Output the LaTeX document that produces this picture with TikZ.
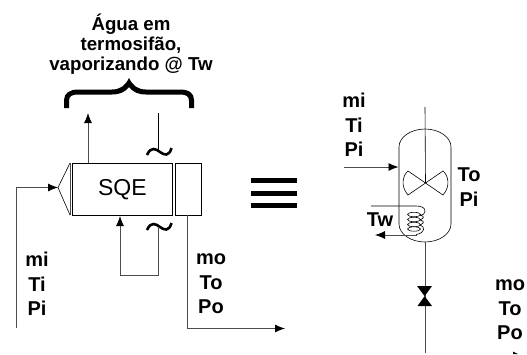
\documentclass[tikz,border=0pt]{standalone}
\usepackage{fontspec}
\setmainfont{Liberation Sans}
\usetikzlibrary{arrows.meta}
\tikzset{
  pipe/.style={draw=black!70,line width=0.8pt},
  thin line/.style={draw=black,line width=0.6pt},
  flow/.style={pipe,-{Latex[length=10pt,width=8pt,black]}},
  lab/.style={align=center,font=\bfseries\fontsize{20}{24.5}\selectfont,inner sep=0pt,text=black},
  tildemark/.style={line width=2.6pt,black},
  bar/.style={fill=black,draw=none}
}
\begin{document}
\begin{tikzpicture}[x=1pt,y=-1pt]
\useasboundingbox (0,0) rectangle (527,354);
% left unit
\coordinate (inA) at (16,328);
\coordinate (inB) at (16,187.5);
\coordinate (tip) at (58,187.5);
\node[thin line,draw,minimum width=100pt,minimum height=52pt,inner sep=0pt,anchor=north west,font=\fontsize{23}{24}\selectfont] (sqe) at (72,163) {SQE};
\node[thin line,draw,minimum width=26pt,minimum height=52pt,inner sep=0pt,anchor=north west] (cap) at (175,163) {};
\draw[pipe] (70,163) -- (70,215);
\draw[thin line] (70,163) -- (tip) -- (70,215);
\draw[flow] (inA) -- (inB) -- (tip);
\coordinate (outA) at (187,215);
\coordinate (outB) at (187,328.5);
\coordinate (outC) at (285,328.5);
\draw[flow] (outA) -- (outB) -- (outC);
\coordinate (vap) at (88,163);
\coordinate (vapEnd) at (88,113);
\draw[flow] (vap) -- (vapEnd);
\coordinate (ret) at (158,113);
\coordinate (retEnd) at (158,152);
\draw[thin line] (ret) -- (retEnd);
\coordinate (rec) at (158,228);
\draw[pipe,-{Latex[length=10pt,width=8pt,black]}] (rec) -- (158,275) -- (120,275) -- (120,216);
% tildes
\draw[tildemark] (147,155) .. controls (151,146) and (156,149) .. (160,152) .. controls (164,155) and (169,157) .. (171.5,148);
\draw[tildemark] (147,230) .. controls (151,221) and (156,224) .. (160,227) .. controls (164,230) and (169,232) .. (171.5,223);
% brace
\fill[black] (64,108) -- (64,100) .. controls (64,93) and (70,89.5) .. (78,89.5) -- (112,89.5) .. controls (120,89.5) and (125,86) .. (129,78) .. controls (133,86) and (138,89.5) .. (146,89.5) -- (180,89.5) .. controls (189,89.5) and (194,93) .. (194,100) -- (194,108) -- (189,108) -- (189,101) .. controls (189,96) and (186,94.5) .. (180,94.5) -- (146,94.5) .. controls (138,94.5) and (133,92) .. (129,87) .. controls (125,92) and (120,94.5) .. (112,94.5) -- (78,94.5) .. controls (72,94.5) and (69,96) .. (69,101) -- (69,108) -- cycle;
\node[lab,font=\bfseries\fontsize{18.7}{20}\selectfont] (water) at (131,44) {Água em\\termosifão,\\vaporizando @ Tw};
\node[lab] (inlab) at (37,284) {mi\\Ti\\Pi};
\node[lab] (outlab) at (211,284) {mo\\To\\Po};
% equivalence
\fill[bar] (250.5,178) rectangle (297,183);
\fill[bar] (250.5,190.5) rectangle (297,195.5);
\fill[bar] (250.5,203) rectangle (297,208);
% right vessel
\draw[thin line] (399,147) .. controls (399,137) and (411,129) .. (425,129) .. controls (439,129) and (451,137) .. (451,147) -- (451,224) .. controls (451,234) and (439,242) .. (425,242) .. controls (411,242) and (399,234) .. (399,224) -- cycle;
\coordinate (shaftTop) at (425,107);
\coordinate (hub) at (425.5,183);
\draw[thin line] (shaftTop) -- (hub);
\draw[thin line] (hub) -- (408,171) .. controls (403,175) and (400,186) .. (408,195) -- (hub) -- (443,171) .. controls (448,175) and (451,186) .. (443,195) -- cycle;
\coordinate (feedA) at (344,167);
\coordinate (feedB) at (398.5,167);
\draw[flow] (feedA) -- (feedB);
% coil
\draw[thin line] (371,206) -- (416,206) .. controls (422,206) and (425,208) .. (425,211) .. controls (425,214) and (423,215) .. (420,215.5);
\draw[thin line] (420,215) .. controls (424,216) and (425,218) .. (420,220);
\draw[thin line] (420,220) .. controls (424,221) and (425,223) .. (420,225);
\draw[thin line] (420,225) .. controls (425,226) and (426,233) .. (416,234.5);
\foreach \yy in {214.5,219.5,224.5,229}{
  \draw[thin line] (414,\yy) ellipse (6.5pt and 2.2pt);
}
\coordinate (coilEnd) at (417,235);
\draw[flow] (coilEnd) -- (375,235);
\draw[pipe] (425,242) -- (425,353);
\fill[black] (417,286) -- (432,286) -- (417.5,306) -- (432,306) -- cycle;
\node[lab] (milab) at (354,125) {mi\\Ti\\Pi};
\node[lab,font=\bfseries\fontsize{20}{25.5}\selectfont] (tolab) at (469,187) {To\\Pi};
\node[lab] (tw) at (380,220) {Tw};
\node[lab] (molab) at (510,310) {mo\\To\\Po};
\fill[black] (513,351.5) -- (518,354) -- (513,354) -- cycle;
\end{tikzpicture}
\end{document}
